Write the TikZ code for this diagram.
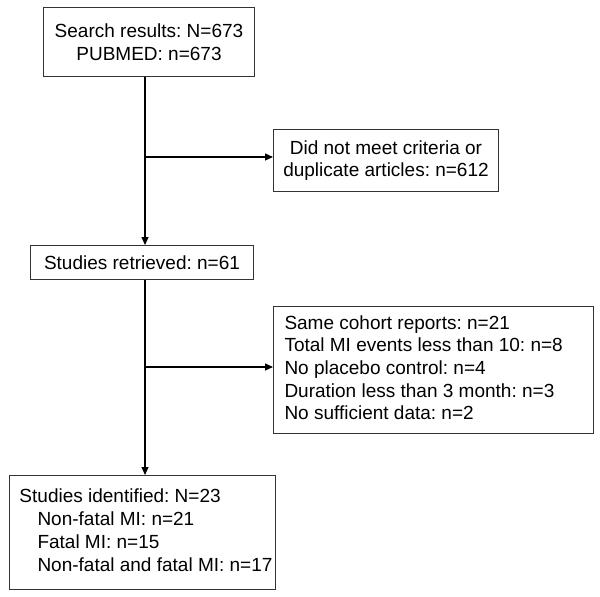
\documentclass[tikz,border=0pt]{standalone}
\usepackage{fontspec}
\setmainfont{Liberation Sans}
\usetikzlibrary{arrows.meta,calc}
\newcommand{\leftblock}[2]{\makebox[#1][l]{\begin{tabular}{@{}l@{}}#2\end{tabular}}}
\begin{document}
\begin{tikzpicture}[x=1pt,y=-1pt,
  every node/.style={font=\fontsize{19}{22.7}\selectfont\frenchspacing},
  box/.style={draw=black!80,line width=1pt,inner sep=0pt,anchor=north west},
  conn/.style={line width=1.2pt,-{Triangle[length=8pt,width=7pt]}}]
\useasboundingbox (0,0) rectangle (600,597);
\node[box,minimum width=211pt,minimum height=69pt,align=center] (b1) at (43,7) {Search results: N=673\\PUBMED: n=673};
\node[box,minimum width=225pt,minimum height=62pt,align=center] (b2) at (273,129) {Did not meet criteria or\\duplicate articles: n=612};
\node[box,minimum width=223pt,minimum height=34pt,align=center] (b3) at (30,245) {Studies retrieved: n=61};
\node[box,minimum width=320pt,minimum height=127pt] (b4) at (273,306) {\leftblock{298pt}{Same cohort reports: n=21\\Total MI events less than 10: n=8\\No placebo control: n=4\\Duration less than 3 month: n=3\\No sufficient data: n=2}};
\node[box,minimum width=266pt,minimum height=114pt] (b5) at (9,475) {\leftblock{246pt}{Studies identified: N=23\\\hspace*{18pt}Non-fatal MI: n=21\\\hspace*{18pt}Fatal MI: n=15\\\hspace*{18pt}Non-fatal and fatal MI: n=17}};
\coordinate (tx) at (145,0);
\coordinate (j1) at (145,157);
\coordinate (j2) at (145,367);
\draw[conn] (b1.south -| tx) -- (b3.north -| tx);
\draw[conn] (j1) -- (j1 -| b2.west);
\draw[conn] (b3.south -| tx) -- (b5.north -| tx);
\draw[conn] (j2) -- (j2 -| b4.west);
\end{tikzpicture}
\end{document}
